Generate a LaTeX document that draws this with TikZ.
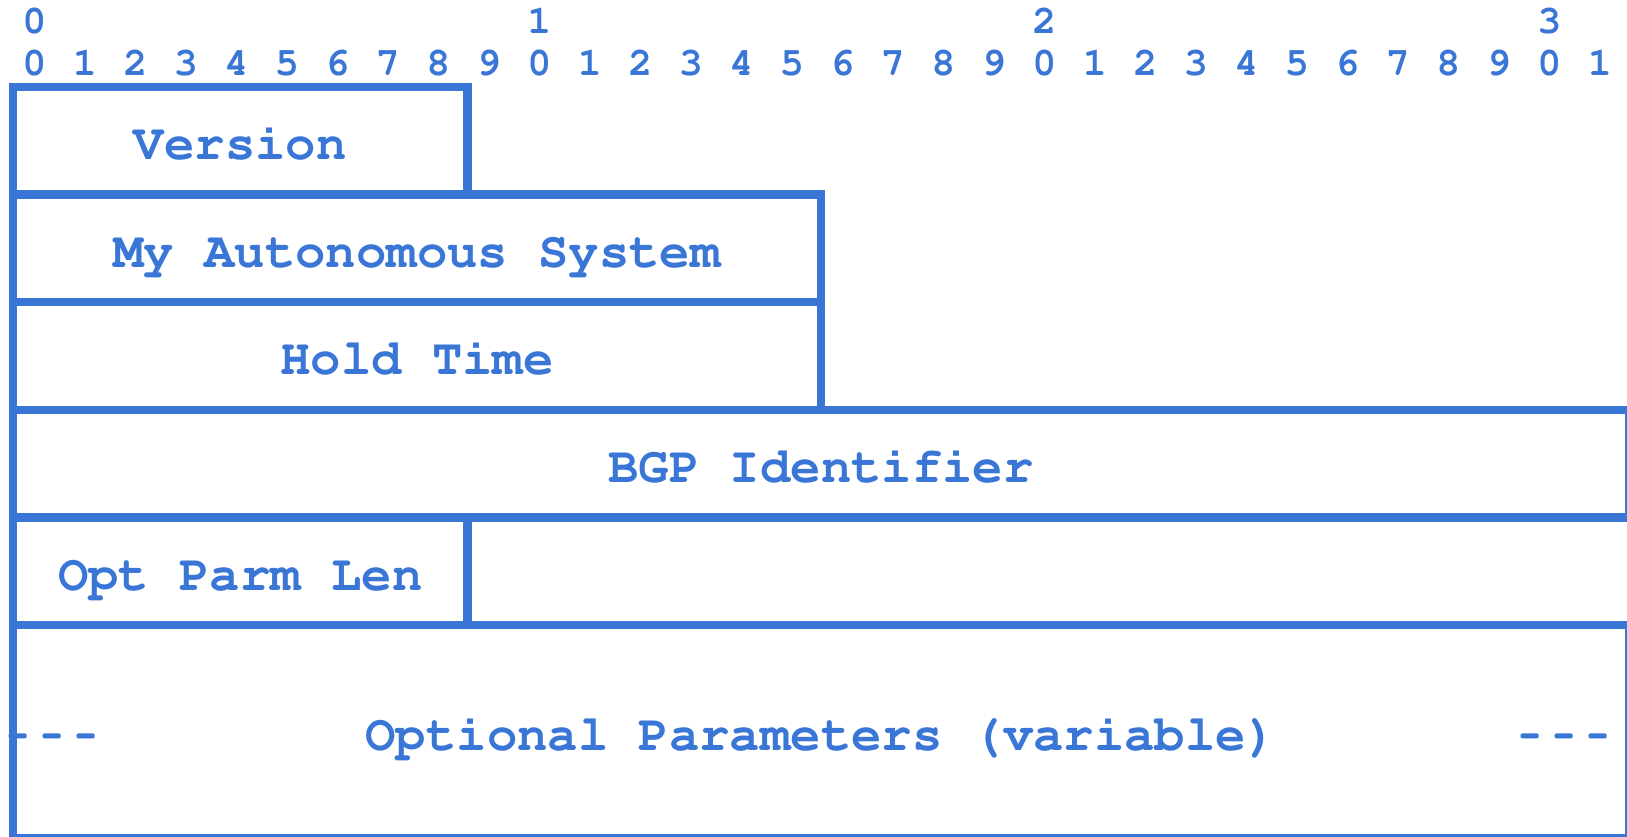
\documentclass[tikz,border=0pt]{standalone}
\usepackage[T1]{fontenc}
\usepackage{courier}
\usepackage{graphicx}
\usepackage{xcolor}
\usepackage{tikz}
\usetikzlibrary{positioning}
\definecolor{bgpblue}{RGB}{58,118,214}

\begin{document}
\begin{tikzpicture}[
            x=0.5pt, y=-0.5pt,
            field/.style={rectangle, draw=bgpblue, line width=4.2pt, outer sep=0pt, inner sep=0pt, minimum height=53.85pt, text=bgpblue, text height=19pt, text depth=0pt, font=\fontsize{25.3}{27}\selectfont\ttfamily\bfseries},
            bits/.style={minimum width=#1*25.25pt},
            bitnum/.style={anchor=base, inner sep=0pt, text=bgpblue, font=\fontsize{20}{22}\selectfont\ttfamily\bfseries},
            filler/.style={inner sep=0pt, text=bgpblue, text height=19pt, text depth=0pt, font=\fontsize{25.3}{27}\selectfont\ttfamily\bfseries}
        ]
        \useasboundingbox (0,0) rectangle (1627,836);
        
        \foreach \t in {0,...,3}
            \node[bitnum] (tens_\t) at ({34.3+505*\t},33) {\t};
        \foreach \i [evaluate=\i as \d using {int(mod(\i,10))}] in {0,...,31}
            \node[bitnum] (bit_\i) at ({34.3+50.5*\i},75.5) {\d};
        
        \node[field, bits=9, anchor=north west] (version) at (13,86.7) {Version};
        \node[field, bits=16, below right=0pt and 0pt of version.south west] (my_as) {My Autonomous System};
        \node[field, bits=16, below right=0pt and 0pt of my_as.south west] (hold_time) {Hold Time};
        \node[field, bits=32, below right=0pt and 0pt of hold_time.south west] (bgp_id) {BGP Identifier};
        \node[field, bits=9, below right=0pt and 0pt of bgp_id.south west] (opt_len) {Opt Parm Len};
        \node[field, bits=32, minimum height=106.7pt, below right=0pt and 0pt of opt_len.south west] (opt_params) {Optional Parameters (variable)};
        
        \node[filler, xshift=19.5pt] (dash_left) at (opt_params.west) {\foreach \k in {1,2,3}{\makebox[17pt]{\scalebox{0.7}[1]{-}}}};
        \node[filler, xshift=-32.25pt] (dash_right) at (opt_params.east) {\foreach \k in {1,2,3}{\makebox[17pt]{\scalebox{0.7}[1]{-}}}};
        
        \end{tikzpicture}
\end{document}
